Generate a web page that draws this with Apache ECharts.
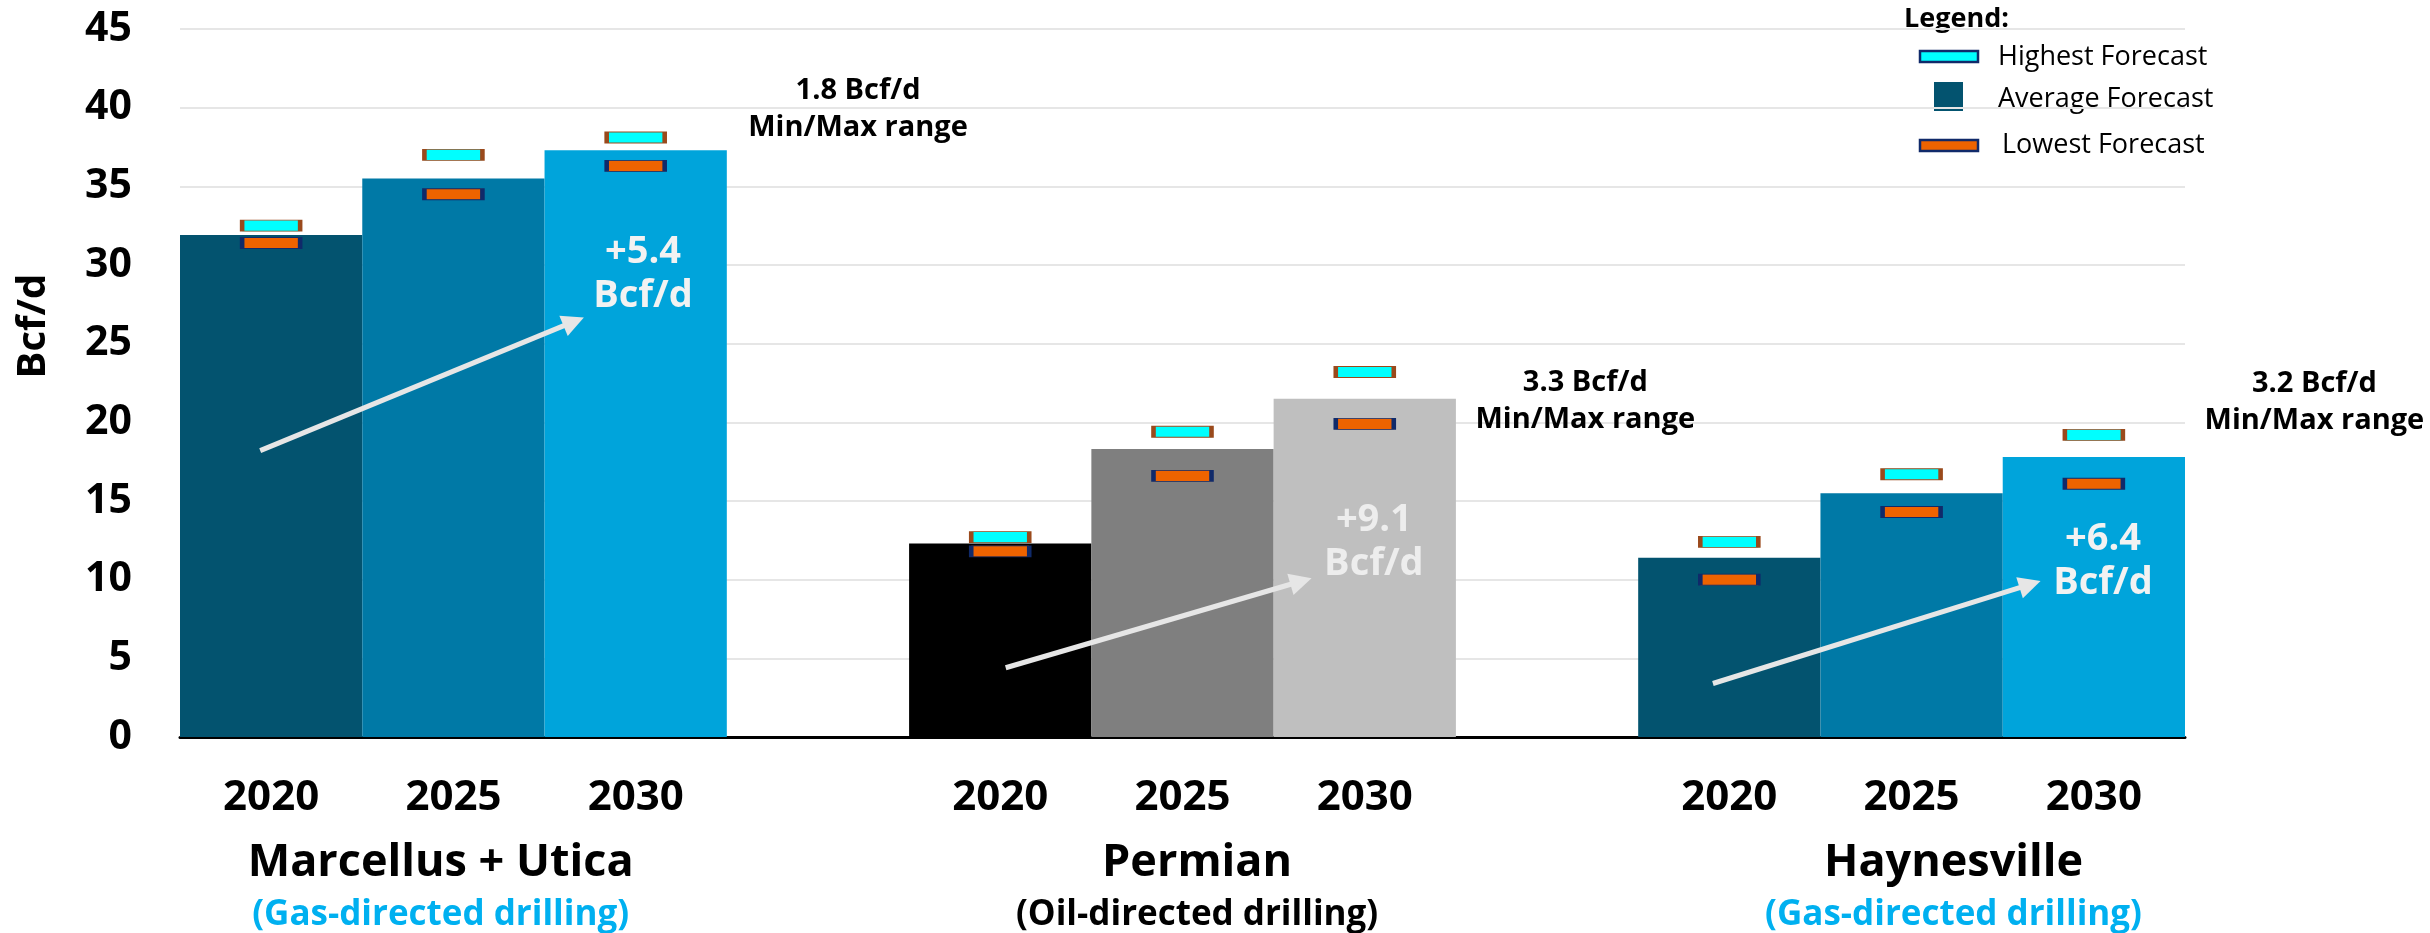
<!DOCTYPE html>
<html>
<head>
<meta charset="utf-8">
<script src="https://cdn.jsdelivr.net/npm/echarts@6/dist/echarts.min.js"></script>
<style>
    html, body { margin: 0; padding: 0; background: #fff; }
    #main { width: 2430px; height: 933px; }
</style>
</head>
<body>
<div id="main"></div>
<script>
// 数据
var years = ["2020", "2025", "2030"];
var basins = ["Marcellus + Utica", "Permian", "Haynesville"];
var drillTypes = ["(Gas-directed drilling)", "(Oil-directed drilling)", "(Gas-directed drilling)"];
var avgForecast = [31.9, 35.5, 37.3, 12.3, 18.3, 21.5, 11.4, 15.5, 17.8];
var highForecast = [32.5, 37.0, 38.1, 12.7, 19.4, 23.2, 12.4, 16.7, 19.2];
var lowForecast = [31.4, 34.5, 36.3, 11.8, 16.6, 19.9, 10.0, 14.3, 16.1];
var yTicks = [0, 5, 10, 15, 20, 25, 30, 35, 40, 45];
var growthText = ["+5.4\nBcf/d", "+9.1\nBcf/d", "+6.4\nBcf/d"];
var rangeText = ["1.8 Bcf/d\nMin/Max range", "3.3 Bcf/d\nMin/Max range", "3.2 Bcf/d\nMin/Max range"];

// 注释位置（隐藏的数值x轴: 0..11 个槽位）
var growthPos = [[2.54, 29.4], [6.55, 12.4], [10.55, 11.2]];
var rangePos = [[3.72, 39.9], [7.71, 21.35], [11.71, 21.25]];
var arrowFrom = [[0.44, 18.2], [4.53, 4.4], [8.41, 3.4]];
var arrowTo = [[2.16, 26.4], [6.15, 9.9], [10.15, 9.7]];
var basinX = [1.43, 5.58, 9.73];

var barColors = ["#03536F", "#0079A6", "#00A4DB", "#000000", "#7F7F7F", "#BFBFBF", "#03536F", "#0079A6", "#00A4DB"];
var fontFamily = '"Open Sans", "Noto Sans", sans-serif';

// 每组3根柱子之间空一个槽位
function spread(arr, fn) {
    var out = [];
    for (var i = 0; i < arr.length; i++) {
        if (i > 0 && i % 3 === 0) out.push('-');
        out.push(fn ? fn(arr[i], i) : arr[i]);
    }
    return out;
}

var categories = [];
basins.forEach(function(b, g) {
    if (g > 0) categories.push("");
    years.forEach(function(y) { categories.push(y); });
});

// 只显示文字的散点系列
function textSeries(data, label) {
    label.show = true;
    label.position = 'inside';
    label.fontWeight = "bold";
    label.fontFamily = fontFamily;
    label.textBorderWidth = 0;
    label.opacity = 1;
    return {
        type: 'scatter',
        xAxisIndex: 1,
        symbolSize: 0,
        silent: true,
        clip: false,
        z: 7,
        itemStyle: { opacity: 1 },
        data: data,
        label: label
    };
}

var myChart = echarts.init(document.getElementById("main"));

var option = {
    animation: false,
    grid: {
        left: 180,
        right: 245,
        top: 29,
        bottom: 196
    },
    xAxis: [{
        type: 'category',
        data: categories,
        axisTick: { show: false },
        axisLine: {
            lineStyle: { color: "#000", width: 3 }
        },
        axisLabel: {
            interval: 0,
            color: "#000",
            fontSize: 42,
            lineHeight: 42,
            fontWeight: "bold",
            fontFamily: fontFamily,
            margin: 40
        }
    }, {
        type: 'value',
        min: 0,
        max: 11,
        show: false
    }],
    yAxis: [{
        type: 'value',
        min: 0,
        max: 45,
        interval: 5,
        axisLine: { show: false },
        axisTick: { show: false },
        axisLabel: {
            color: "#000",
            fontSize: 41,
            fontWeight: "bold",
            fontFamily: fontFamily,
            margin: 48,
            formatter: function(v) { return yTicks.indexOf(v) >= 0 ? String(v) : ''; }
        },
        splitLine: {
            lineStyle: { color: "#E6E6E6", width: 2 }
        }
    }],
    series: [{
        name: 'Average Forecast',
        type: 'bar',
        barWidth: '100%',
        barGap: 0,
        data: spread(avgForecast, function(v, i) {
            return { value: v, itemStyle: { color: barColors[i] } };
        })
    }, {
        name: 'Highest Forecast',
        type: 'scatter',
        symbol: 'rect',
        symbolSize: [58, 11],
        z: 5,
        itemStyle: { color: "#00FFFF", borderColor: "#9A4A1C", borderWidth: 2, opacity: 1 },
        data: spread(highForecast)
    }, {
        name: 'Lowest Forecast',
        type: 'scatter',
        symbol: 'rect',
        symbolSize: [58, 11],
        z: 5,
        itemStyle: { color: "#EE6300", borderColor: "#102A6A", borderWidth: 2, opacity: 1 },
        data: spread(lowForecast)
    }, {
        // 增长箭头
        type: 'scatter',
        xAxisIndex: 1,
        symbolSize: 0,
        silent: true,
        z: 6,
        data: arrowFrom,
        markLine: {
            silent: true,
            symbol: ['none', 'triangle'],
            symbolSize: 22,
            label: { show: false },
            lineStyle: { color: "#E6E6E6", width: 5, type: 'solid', opacity: 1 },
            itemStyle: { color: "#E6E6E6" },
            data: arrowFrom.map(function(f, i) {
                return [{ coord: f }, { coord: arrowTo[i] }];
            })
        }
    },
    // 增长标签
    textSeries(growthPos.map(function(p, i) {
        return { value: p, label: { color: i === 1 ? "#EDEDED" : "#F2F2F2" } };
    }), {
        fontSize: 38,
        lineHeight: 44,
        formatter: function(p) { return growthText[p.dataIndex]; }
    }),
    // Min/Max 区间说明
    textSeries(rangePos, {
        color: "#000",
        fontSize: 29,
        lineHeight: 37,
        formatter: function(p) { return rangeText[p.dataIndex]; }
    }),
    // 盆地名称
    textSeries(basinX.map(function(x) { return [x, -8.0]; }), {
        color: "#000",
        fontSize: 45,
        formatter: function(p) { return basins[p.dataIndex]; }
    }),
    textSeries(basinX.map(function(x, i) {
        return { value: [x, -11.3], label: { color: i === 1 ? "#000" : "#00B0F0" } };
    }), {
        fontSize: 35,
        formatter: function(p) { return drillTypes[p.dataIndex]; }
    })],
    graphic: [{
        type: 'text',
        x: 34,
        y: 326,
        rotation: Math.PI / 2,
        style: {
            text: 'Bcf/d',
            fill: '#000',
            font: 'bold 40px ' + fontFamily,
            align: 'center',
            verticalAlign: 'middle'
        }
    }, {
        // 图例
        type: 'group',
        children: [{
            type: 'text',
            x: 1904,
            y: 19,
            style: { text: 'Legend:', fill: '#000', font: 'bold 27px ' + fontFamily, verticalAlign: 'middle' }
        }, {
            type: 'rect',
            shape: { x: 1920, y: 51, width: 58, height: 11 },
            style: { fill: '#00FFFF', stroke: '#102A6A', lineWidth: 2.5 }
        }, {
            type: 'text',
            x: 1998,
            y: 57,
            style: { text: 'Highest Forecast', fill: '#000', font: '27px ' + fontFamily, verticalAlign: 'middle' }
        }, {
            type: 'rect',
            shape: { x: 1934, y: 82, width: 29, height: 29 },
            style: { fill: '#03536F' }
        }, {
            type: 'text',
            x: 1998,
            y: 99,
            style: { text: 'Average Forecast', fill: '#000', font: '27px ' + fontFamily, verticalAlign: 'middle' }
        }, {
            type: 'rect',
            shape: { x: 1920, y: 140, width: 58, height: 11 },
            style: { fill: '#EE6300', stroke: '#102A6A', lineWidth: 2.5 }
        }, {
            type: 'text',
            x: 2002,
            y: 145,
            style: { text: 'Lowest Forecast', fill: '#000', font: '27px ' + fontFamily, verticalAlign: 'middle' }
        }]
    }]
};

myChart.setOption(option);

window.addEventListener("resize", function() {
    myChart.resize();
});
</script>
</body>
</html>
